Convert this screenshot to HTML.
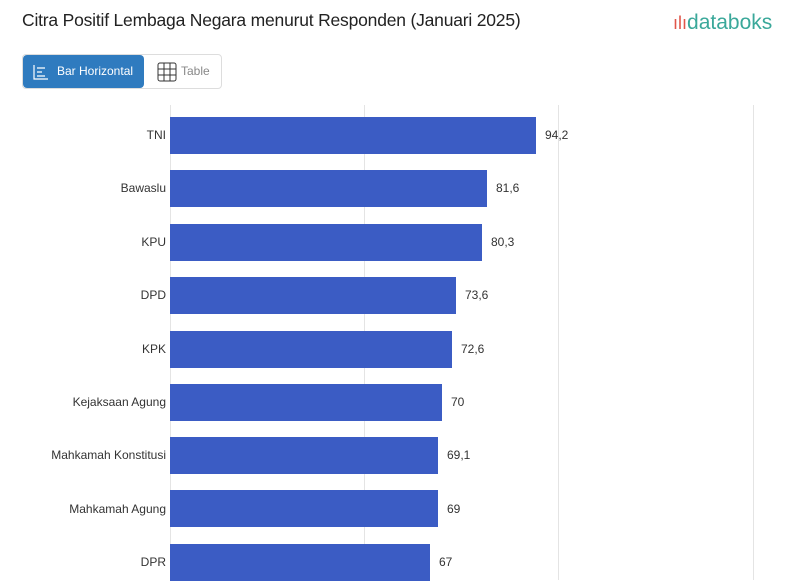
<!DOCTYPE html>
<html><head><style>
body{margin:0;width:800px;height:580px;overflow:hidden;background:#fff;font-family:"Liberation Sans",sans-serif;position:relative}
.t{position:absolute;left:22px;top:10px;font-size:17.5px;color:#222;letter-spacing:-0.2px}
.logo{position:absolute;left:673px;top:11px;font-size:21px;color:#3aa89a}
.tabs{position:absolute;left:22px;top:54px;width:198px;height:33px;border:1px solid #ddd;border-radius:4px}
.b1{position:absolute;left:0;top:0;width:121px;height:33px;background:#2f7bbf;border-radius:4px;color:#fff;font-size:12px;line-height:33px;text-indent:34px}
.b2{position:absolute;left:158px;top:0;line-height:33px;font-size:12px;color:#888}
.g{position:absolute;top:105px;bottom:0;width:1px;background:#e4e4e4}
.bar{position:absolute;left:170px;height:37px;background:#3b5cc4}
.l{position:absolute;right:634px;font-size:12px;color:#333;text-align:right;white-space:nowrap}
.v{position:absolute;font-size:12px;color:#333}
</style></head><body>
<div class="t">Citra Positif Lembaga Negara menurut Responden (Januari 2025)</div>
<div class="logo"><span style="color:#e0564a;font-size:18px">ılı</span>databoks</div>
<div class="tabs"><div class="b1">Bar Horizontal</div>
<svg style="position:absolute;left:10px;top:9px" width="16" height="16"><path d="M1 1V15H15M4 4H12M4 8H9M4 12H12" stroke="#fff" fill="none" stroke-width="1.2"/></svg>
<svg style="position:absolute;left:134px;top:7px" width="20" height="20"><rect x="1" y="1" width="18" height="18" rx="2" fill="none" stroke="#333"/><path d="M7 1V19M13 1V19M1 7H19M1 13H19" stroke="#333"/></svg>
<div class="b2">Table</div></div>
<div class="g" style="left:170px"></div><div class="g" style="left:364px"></div><div class="g" style="left:558px"></div><div class="g" style="left:753px"></div>
<div class="bar" style="top:117px;width:366px"></div><div class="l" style="top:128px">TNI</div><div class="v" style="left:545px;top:128px">94,2</div>
<div class="bar" style="top:170px;width:317px"></div><div class="l" style="top:181px">Bawaslu</div><div class="v" style="left:496px;top:181px">81,6</div>
<div class="bar" style="top:224px;width:312px"></div><div class="l" style="top:235px">KPU</div><div class="v" style="left:491px;top:235px">80,3</div>
<div class="bar" style="top:277px;width:286px"></div><div class="l" style="top:288px">DPD</div><div class="v" style="left:465px;top:288px">73,6</div>
<div class="bar" style="top:331px;width:282px"></div><div class="l" style="top:342px">KPK</div><div class="v" style="left:461px;top:342px">72,6</div>
<div class="bar" style="top:384px;width:272px"></div><div class="l" style="top:395px">Kejaksaan Agung</div><div class="v" style="left:451px;top:395px">70</div>
<div class="bar" style="top:437px;width:268px"></div><div class="l" style="top:448px">Mahkamah Konstitusi</div><div class="v" style="left:447px;top:448px">69,1</div>
<div class="bar" style="top:490px;width:268px"></div><div class="l" style="top:502px">Mahkamah Agung</div><div class="v" style="left:447px;top:502px">69</div>
<div class="bar" style="top:544px;width:260px"></div><div class="l" style="top:555px">DPR</div><div class="v" style="left:439px;top:555px">67</div>
</body></html>
